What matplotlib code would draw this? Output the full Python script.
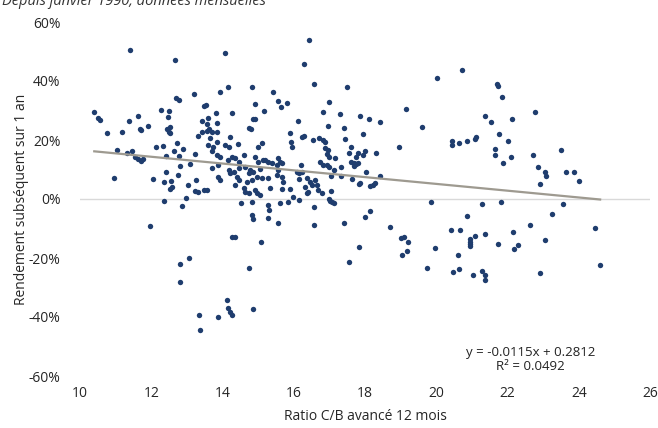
import matplotlib
matplotlib.use("Agg")
import matplotlib.pyplot as plt
from matplotlib.ticker import FuncFormatter

# Forward P/E (x) and subsequent 1-year return in % (y)
points = [
    (11.40,50.5),(12.67,47.0),(13.21,35.6),(12.69,34.3),(12.79,33.7),(10.40,29.4),(10.51,27.4),(10.56,26.8),
    (11.38,26.5),(11.62,28.2),(12.28,30.3),(12.50,29.8),(12.48,27.7),(12.52,24.5),(12.45,23.8),(11.90,24.6),
    (11.69,23.8),(13.42,26.5),(13.49,31.5),
    (10.75,22.5),(11.17,22.8),(11.70,23.4),(12.50,22.8),(12.54,22.3),(13.32,21.4),(13.42,22.8),(11.03,16.6),
    (11.31,15.7),(11.45,16.4),(11.55,14.1),(11.64,13.6),(11.70,12.9),(11.78,13.5),(12.13,17.5),(12.32,18.1),
    (12.71,19.1),(12.63,16.2),(12.90,16.9),(12.42,14.7),(12.77,14.5),(13.23,15.3),(12.82,11.2),(13.10,11.8),
    (12.42,9.0),(12.75,8.1),(12.06,6.8),(12.36,5.8),(12.56,6.1),(13.25,6.4),(12.58,4.0),(12.54,3.3),(13.02,4.7),
    (13.24,2.7),(13.31,2.3),(13.48,3.1),(10.95,7.2),(12.37,-0.6),(12.98,0.2),(12.87,-2.4),(11.97,-9.2),
    (13.06,-20.1),(12.80,-22.0),(12.82,-28.0),(13.33,-39.4),(13.38,-44.5),
    (16.43,53.9),(14.06,49.4),(16.28,45.8),(16.56,39.0),(13.94,36.3),(14.16,38.1),(14.82,38.1),(15.43,36.3),
    (14.91,32.3),(15.55,33.1),(15.63,31.2),(15.81,32.5),(15.16,29.8),(16.81,29.4),(14.26,29.2),(13.81,29.2),
    (13.54,31.8),(13.60,27.4),(13.85,25.7),(13.56,25.3),(14.87,27.0),(14.92,27.2),(16.11,26.5),(14.73,24.1),
    (14.80,23.8),(13.62,23.6),
    (13.56,23.0),(13.70,22.8),(13.84,22.8),(14.21,20.9),(13.65,20.6),(13.84,19.4),(13.60,18.3),(13.74,17.7),
    (14.07,18.3),(14.17,17.7),(14.43,18.6),(13.70,16.4),(15.01,17.5),(15.10,18.9),(13.84,14.9),(13.93,14.3),
    (14.15,13.2),(14.26,14.3),(14.35,13.8),(14.45,12.6),(14.59,14.9),(14.92,14.3),(15.01,12.6),(15.15,13.2),
    (13.70,10.4),(13.88,11.5),(14.17,9.8),(14.31,9.3),(14.21,8.7),(14.45,10.4),(14.63,11.0),(14.78,9.8),
    (14.73,8.7),(14.87,9.3),(15.06,10.1),(13.88,7.6),(13.93,6.4),(14.40,7.6),(14.45,6.4),(14.68,5.9),
    (14.82,6.4),(14.96,7.6),(15.10,7.0),(13.56,3.1),(14.59,3.6),(14.63,2.5),(14.73,1.9),(14.92,3.1),
    (14.96,1.9),(15.06,1.4),(14.35,4.7),(14.52,-1.5),(14.82,-0.9),(14.82,-5.4),(14.87,-6.9),
    (15.90,22.5),(16.24,21.1),(16.30,21.4),(16.55,20.0),(16.71,20.6),(16.83,20.0),(15.93,19.4),(15.95,17.7),
    (15.20,13.2),(15.29,12.6),(15.39,12.1),(15.57,13.8),(15.62,12.6),(15.53,11.5),(15.67,12.1),(16.21,11.5),
    (16.74,12.6),(16.83,11.5),(16.09,9.3),(16.14,8.7),(16.23,9.3),(15.57,9.8),(15.53,8.1),(15.67,7.6),
    (15.71,5.9),(15.29,7.0),(16.14,6.7),(16.37,7.0),(16.46,5.9),(16.60,6.4),(16.65,4.7),(16.51,4.7),
    (16.32,4.2),(16.69,3.1),(16.79,1.9),(16.41,2.5),(16.37,1.9),(15.34,3.6),(15.67,3.3),(15.90,3.3),
    (15.99,0.8),(16.14,-0.3),(15.29,-2.0),(15.62,-1.3),(15.85,-0.9),(15.31,-3.7),(15.29,-6.5),(15.57,-8.2),
    (16.58,-2.6),(16.58,-8.8),
    (14.28,-12.8),(14.34,-12.8),(15.07,-14.7),(14.73,-23.5),(14.12,-34.2),(14.15,-36.8),(14.21,-38.2),
    (14.26,-39.3),(13.87,-39.9),(14.87,-37.3),
    (20.02,41.1),(17.49,38.1),(17.00,32.9),(17.30,28.8),(17.87,28.2),(18.10,27.0),(18.43,26.2),(19.15,30.6),
    (19.60,24.3),(16.96,24.8),(17.42,24.0),(17.44,20.2),(17.93,22.0),(16.88,19.4),(18.96,17.7),(17.61,17.7),
    (16.88,17.2),(16.96,16.6),(16.93,15.3),(17.00,14.3),(17.56,15.5),(17.80,15.7),(17.99,16.4),(17.93,14.9),
    (17.74,14.3),(18.30,15.5),(17.16,13.8),(17.61,12.6),(17.68,12.1),(17.74,11.9),(17.80,12.3),(17.70,11.2),
    (16.93,11.5),(16.98,11.0),(17.33,11.0),(17.12,9.8),(18.03,9.3),(17.63,6.7),(17.04,7.8),(17.33,7.8),
    (17.84,5.1),(17.85,5.5),(18.15,4.4),(18.22,4.7),(18.27,5.3),(18.41,7.8),(17.04,2.8),(16.98,-0.1),
    (17.02,-0.6),(17.07,-1.0),(17.12,-1.3),(19.84,-0.9),(18.15,-4.0),(17.99,-6.0),(17.42,-8.0),(18.71,-9.6),
    (19.00,-13.2),(19.10,-12.8),(19.21,-14.6),(19.19,-17.6),(19.05,-19.0),(17.84,-16.2),(19.97,-16.6),
    (17.54,-21.4),(19.73,-23.3),
    (20.72,43.8),(21.71,39.0),(21.72,38.3),(21.85,34.7),(22.76,29.5),(21.38,28.2),(21.54,26.2),(22.14,27.0),
    (20.44,19.7),(20.44,18.3),(20.63,18.9),(20.86,19.7),(21.08,20.2),(21.12,21.1),(21.75,21.9),(22.00,19.7),
    (21.64,17.1),(21.64,14.9),(21.87,12.3),(22.10,14.2),(22.72,15.0),(23.50,16.7),(22.85,10.7),(23.04,9.3),
    (23.09,7.9),(22.92,5.1),(23.64,9.3),(23.86,9.1),(24.02,6.2),
    (21.28,-1.6),(21.82,-1.0),(23.57,-1.8),(20.86,-5.8),(23.25,-5.2),(22.64,-8.9),(20.40,-10.4),(20.67,-10.6),
    (24.47,-9.9),(21.08,-12.4),(21.38,-11.8),(20.96,-13.6),(20.96,-14.5),(20.96,-15.3),(20.96,-15.8),
    (22.16,-11.3),(21.72,-15.2),(23.05,-13.8),(22.30,-15.6),(22.19,-17.1),(20.60,-19.0),(20.47,-24.6),
    (20.65,-23.8),(21.02,-25.7),(21.28,-24.3),(21.38,-25.8),(21.36,-27.5),(22.92,-25.2),(24.60,-22.5),
]
ratio_cb = [p[0] for p in points]
rendement = [p[1] for p in points]

slope = -0.0115
intercept = 0.2812
trend_x = [10.4, 24.6]
x_ticks = [10, 12, 14, 16, 18, 20, 22, 24, 26]
y_ticks = [-60, -40, -20, 0, 20, 40, 60]

plt.rcParams['font.family'] = ['Open Sans', 'DejaVu Sans']

fig = plt.figure(figsize=(6.58, 4.28), dpi=100)
ax = fig.add_axes([80/658, 1-376/428, 570/658, 354/428])

ax.axhline(0, color='#d9d9d9', lw=1.0, zorder=1)
ax.scatter(ratio_cb, rendement, s=15, color='#1f3d6e', zorder=3, linewidths=0)
ax.plot(trend_x, [(slope*x + intercept)*100 for x in trend_x], color='#9e9a90', lw=1.6, zorder=4)

ax.set_xlim(10, 26)
ax.set_ylim(-60, 60)
ax.set_xticks(x_ticks)
ax.set_yticks(y_ticks)
ax.yaxis.set_major_formatter(FuncFormatter(lambda v, p: f"{v:.0f}%"))
for s in ax.spines.values():
    s.set_visible(False)
ax.tick_params(length=0, labelsize=10, colors='#262626')
ax.tick_params(axis='y', pad=14)
ax.tick_params(axis='x', pad=7)

ax.set_xlabel("Ratio C/B avancé 12 mois", fontsize=10, color='#262626', labelpad=6)
ax.set_ylabel("Rendement subséquent sur 1 an", fontsize=10, color='#262626', labelpad=0)

ax.text(22.65, -52.0, "y = -0.0115x + 0.2812", fontsize=9.5, ha='center', va='center', color='#222222')
ax.text(22.65, -56.8, "R² = 0.0492", fontsize=9.5, ha='center', va='center', color='#222222')

fig.text(0.003, 1-5/428, "Depuis janvier 1990, données mensuelles", fontsize=10.5, style='italic',
         ha='left', va='baseline', color='#333333')

fig.savefig("out.png", dpi=100)
